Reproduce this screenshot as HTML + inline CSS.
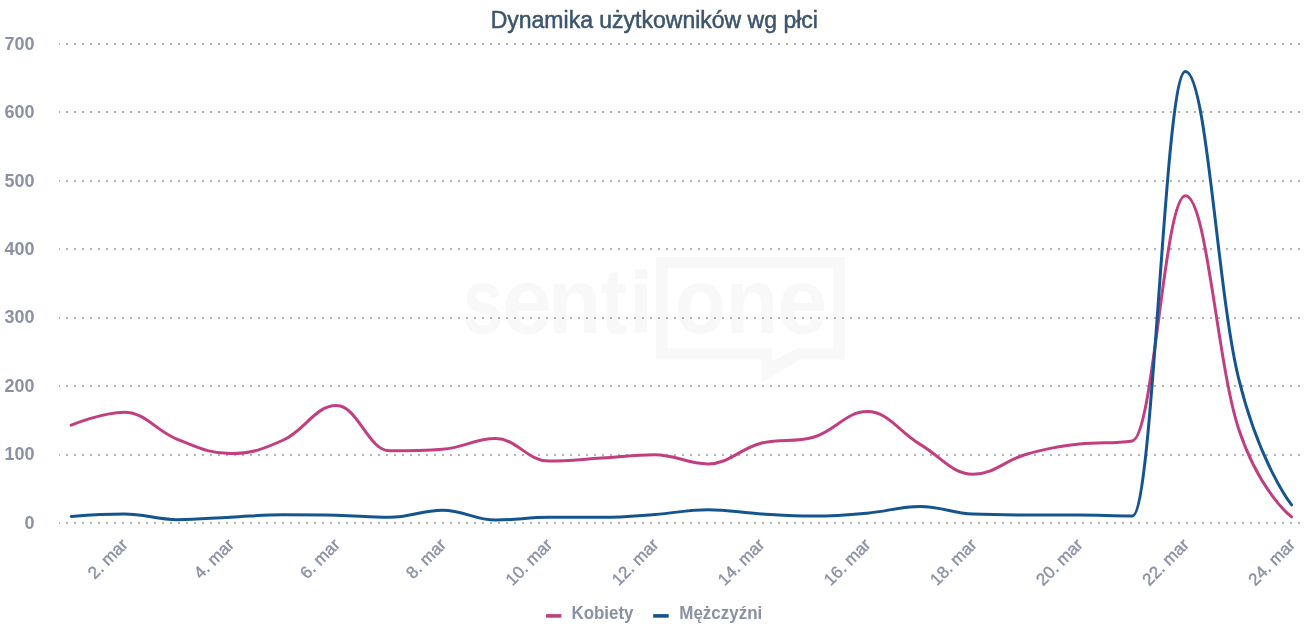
<!DOCTYPE html>
<html lang="pl"><head><meta charset="utf-8"><title>Dynamika użytkowników wg płci</title>
<style>
html,body{margin:0;padding:0;background:#fff;}
body{width:1308px;height:640px;overflow:hidden;font-family:"Liberation Sans",sans-serif;}
svg{display:block;}
svg text{font-family:"Liberation Sans",sans-serif;}
#ylabels,#xlabels,#legend,#ttlg{filter:url(#noop);}
.yl{font-size:18px;font-weight:bold;fill:#8b91a5;text-anchor:end;}
.xl{font-size:17px;fill:#8b91a5;stroke:#8b91a5;stroke-width:0.4px;text-anchor:end;}
.lg{font-size:18px;font-weight:bold;fill:#8b91a5;}
.ttl{font-size:23px;fill:#3c546c;stroke:#3c546c;stroke-width:0.5px;text-anchor:middle;}
.wm{font-size:100px;font-weight:bold;fill:#f8f8f8;}
</style></head><body>
<svg width="1308" height="640" viewBox="0 0 1308 640">
<rect x="0" y="0" width="1308" height="640" fill="#ffffff"/>
<defs><filter id="noop" x="-5%" y="-5%" width="110%" height="110%" color-interpolation-filters="sRGB"><feOffset dx="0" dy="0"/></filter></defs>
<g id="watermark" fill="#f8f8f8">
<text class="wm" transform="translate(462.81,332.5) scale(0.7286,0.926)" x="0" y="0">s</text>
<text class="wm" transform="translate(502.02,332.5) scale(0.8940,0.926)" x="0" y="0">e</text>
<text class="wm" transform="translate(548.18,332.5) scale(0.8694,0.926)" x="0" y="0">n</text>
<text class="wm" transform="translate(600.19,332.5) scale(0.8125,0.926)" x="0" y="0">t</text>
<text class="wm" transform="translate(675.00,332.5) scale(0.8345,0.926)" x="0" y="0">o</text>
<text class="wm" transform="translate(725.86,332.5) scale(0.8571,0.926)" x="0" y="0">n</text>
<text class="wm" transform="translate(777.30,332.5) scale(0.9000,0.926)" x="0" y="0">e</text>
<rect x="635" y="283.8" width="11.8" height="48.7"/><rect x="635" y="268.9" width="11.8" height="10"/>
<path fill-rule="evenodd" d="M656 257 H844.8 V359.5 H800 L761.5 382.5 V359.5 H656 Z M667.6 268.2 V348.6 H771.8 V361.5 L796 348.6 H833.1 V268.2 Z"/>
</g>
<g id="grid" stroke="#b2b2b2" stroke-width="2" stroke-dasharray="2 6" stroke-dashoffset="1" shape-rendering="crispEdges">
<line x1="59" y1="44" x2="1300" y2="44"/>
<line x1="59" y1="112" x2="1300" y2="112"/>
<line x1="59" y1="181" x2="1300" y2="181"/>
<line x1="59" y1="249" x2="1300" y2="249"/>
<line x1="59" y1="318" x2="1300" y2="318"/>
<line x1="59" y1="386" x2="1300" y2="386"/>
<line x1="59" y1="455" x2="1300" y2="455"/>
<line x1="59" y1="523" x2="1300" y2="523"/>
</g>
<g id="ylabels">
<text class="yl" x="34.5" y="49.6">700</text>
<text class="yl" x="34.5" y="118.0">600</text>
<text class="yl" x="34.5" y="186.5">500</text>
<text class="yl" x="34.5" y="254.9">400</text>
<text class="yl" x="34.5" y="323.3">300</text>
<text class="yl" x="34.5" y="391.7">200</text>
<text class="yl" x="34.5" y="460.2">100</text>
<text class="yl" x="34.5" y="528.6">0</text>
</g>
<g id="xlabels">
<text class="xl" transform="translate(128.8,545.7) rotate(-45)" x="0" y="0">2. mar</text>
<text class="xl" transform="translate(234.9,545.7) rotate(-45)" x="0" y="0">4. mar</text>
<text class="xl" transform="translate(341.0,545.7) rotate(-45)" x="0" y="0">6. mar</text>
<text class="xl" transform="translate(447.1,545.7) rotate(-45)" x="0" y="0">8. mar</text>
<text class="xl" transform="translate(553.2,545.7) rotate(-45)" x="0" y="0">10. mar</text>
<text class="xl" transform="translate(659.4,545.7) rotate(-45)" x="0" y="0">12. mar</text>
<text class="xl" transform="translate(765.5,545.7) rotate(-45)" x="0" y="0">14. mar</text>
<text class="xl" transform="translate(871.6,545.7) rotate(-45)" x="0" y="0">16. mar</text>
<text class="xl" transform="translate(977.7,545.7) rotate(-45)" x="0" y="0">18. mar</text>
<text class="xl" transform="translate(1083.8,545.7) rotate(-45)" x="0" y="0">20. mar</text>
<text class="xl" transform="translate(1190.0,545.7) rotate(-45)" x="0" y="0">22. mar</text>
<text class="xl" transform="translate(1296.1,545.7) rotate(-45)" x="0" y="0">24. mar</text>
</g>
<g id="series" fill="none" stroke-width="3" stroke-linecap="round" stroke-linejoin="round">
<path stroke="#c13f80" d="M 71.20 425.10 C 71.20 425.10 103.04 412.20 124.26 412.20 C 145.48 412.20 156.10 431.04 177.32 439.30 C 198.54 447.56 209.16 453.50 230.38 453.50 C 251.60 453.50 262.22 449.58 283.44 440.00 C 304.66 430.42 315.28 405.60 336.50 405.60 C 357.72 405.60 368.34 450.80 389.56 450.80 C 410.78 450.80 421.40 450.80 442.62 449.20 C 463.84 447.60 474.46 438.60 495.68 438.60 C 516.90 438.60 527.52 461.10 548.74 461.10 C 569.96 461.10 580.58 459.38 601.80 458.10 C 623.02 456.82 633.64 454.70 654.86 454.70 C 676.08 454.70 686.70 463.90 707.92 463.90 C 729.14 463.90 739.76 448.58 760.98 443.20 C 782.20 437.82 792.82 443.20 814.04 437.00 C 835.26 430.80 845.88 411.60 867.10 411.60 C 888.32 411.60 898.94 431.88 920.16 444.40 C 941.38 456.92 952.00 474.20 973.22 474.20 C 994.44 474.20 1005.06 460.22 1026.28 454.20 C 1047.50 448.18 1058.12 446.76 1079.34 444.10 C 1100.56 441.44 1111.18 444.10 1132.40 440.90 C 1153.62 437.70 1164.24 195.80 1185.46 195.80 C 1206.68 195.80 1217.30 364.28 1238.52 428.50 C 1259.74 492.72 1291.58 516.90 1291.58 516.90"/>
<path stroke="#14558f" d="M 71.20 516.40 C 71.20 516.40 103.04 514.00 124.26 514.00 C 145.48 514.00 156.10 519.70 177.32 519.70 C 198.54 519.70 209.16 518.18 230.38 517.20 C 251.60 516.22 262.22 514.80 283.44 514.80 C 304.66 514.80 315.28 514.80 336.50 515.20 C 357.72 515.60 368.34 517.30 389.56 517.30 C 410.78 517.30 421.40 510.20 442.62 510.20 C 463.84 510.20 474.46 520.00 495.68 520.00 C 516.90 520.00 527.52 517.30 548.74 517.30 C 569.96 517.30 580.58 517.30 601.80 517.30 C 623.02 517.30 633.64 516.02 654.86 514.50 C 676.08 512.98 686.70 509.70 707.92 509.70 C 729.14 509.70 739.76 512.62 760.98 513.90 C 782.20 515.18 792.82 516.10 814.04 516.10 C 835.26 516.10 845.88 515.12 867.10 513.20 C 888.32 511.28 898.94 506.50 920.16 506.50 C 941.38 506.50 952.00 513.20 973.22 514.10 C 994.44 515.00 1005.06 515.00 1026.28 515.00 C 1047.50 515.00 1058.12 515.00 1079.34 515.00 C 1100.56 515.00 1111.18 515.90 1132.40 515.90 C 1153.62 515.90 1164.24 71.50 1185.46 71.50 C 1206.68 71.50 1217.30 291.32 1238.52 378.00 C 1259.74 464.68 1291.58 504.90 1291.58 504.90"/>
</g>
<g id="ttlg"><text class="ttl" x="654.3" y="27.8">Dynamika użytkowników wg płci</text></g>
<g id="legend">
<rect x="546" y="614.1" width="15.4" height="3.6" fill="#c13f80"/>
<text class="lg" x="571.5" y="619.4" textLength="62" lengthAdjust="spacingAndGlyphs">Kobiety</text>
<rect x="653.2" y="614.1" width="15.5" height="3.6" fill="#14558f"/>
<text class="lg" x="679.3" y="619.4" textLength="83" lengthAdjust="spacingAndGlyphs">Mężczyźni</text>
</g>
</svg>
</body></html>
